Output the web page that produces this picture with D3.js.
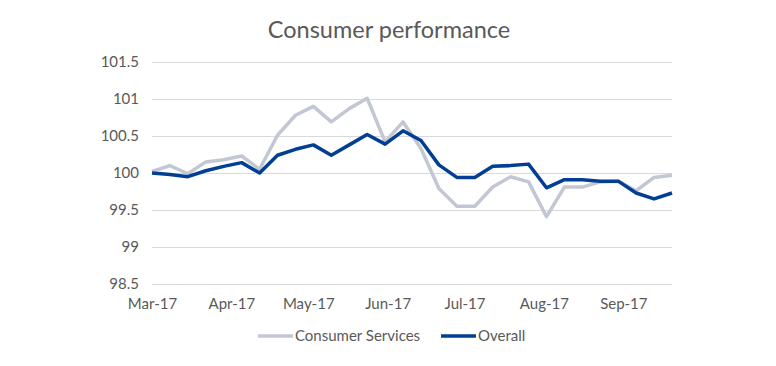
<!DOCTYPE html>
<html><head><meta charset="utf-8">
<script src="https://cdn.jsdelivr.net/npm/d3@7"></script>
<style>body{margin:0;background:#fff;} text{font-family:Lato,"Open Sans",sans-serif;}</style>
</head><body><svg id="c" width="776" height="366"></svg>
<script>
const startDate = "2017-03-01";
const weeks = 30;
const consumerServices = [100.02,100.10,99.99,100.15,100.18,100.23,100.05,100.51,100.78,100.90,100.69,100.87,101.01,100.42,100.69,100.33,99.79,99.55,99.55,99.81,99.95,99.88,99.41,99.81,99.81,99.88,99.89,99.76,99.94,99.97];
const overall = [100.00,99.98,99.95,100.03,100.09,100.14,100.00,100.24,100.32,100.38,100.24,100.38,100.52,100.39,100.57,100.44,100.11,99.94,99.94,100.09,100.10,100.12,99.80,99.91,99.91,99.89,99.89,99.73,99.65,99.73];
const yTicks = [98.5,99,99.5,100,100.5,101,101.5];
const monthTicks = ["2017-03-01","2017-04-01","2017-05-01","2017-06-01","2017-07-01","2017-08-01","2017-09-01"];
const seriesNames = ["Consumer Services","Overall"];
const colors = ["#c3c7d4","#023f92"];

const svg = d3.select("#c");
const parse = d3.timeParse("%Y-%m-%d");
const t0 = parse(startDate);
const dates = d3.range(weeks).map(i => d3.timeDay.offset(t0, i*7));
const x = d3.scaleTime().domain([t0, dates[dates.length-1]]).range([152, 672]);
const y = d3.scaleLinear().domain([98.5, 101.5]).range([284, 62]);

svg.append("text").attr("x", 389).attr("y", 38).attr("text-anchor","middle")
  .attr("font-size", 23.5).attr("fill", "#595959").text("Consumer performance");

const gy = svg.append("g").attr("transform","translate(152,0)")
  .call(d3.axisLeft(y).tickValues(yTicks).tickSize(-520).tickPadding(13).tickFormat(d3.format("")));
gy.select(".domain").remove();
gy.selectAll("line").attr("stroke","#d9d9d9");
gy.selectAll("text").attr("font-size",15).attr("fill","#595959").style("font-family","Lato");

const gx = svg.append("g").attr("transform","translate(0,284)")
  .call(d3.axisBottom(x).tickValues(monthTicks.map(parse)).tickSize(0).tickPadding(14).tickFormat(d3.timeFormat("%b-%y")));
gx.select(".domain").remove();
gx.selectAll("text").attr("font-size",15).attr("fill","#595959").style("font-family","Lato");

const line = d3.line().x((d,i) => x(dates[i])).y(d => y(d));
[consumerServices, overall].forEach((s, k) => {
  svg.append("path").datum(s).attr("d", line).attr("fill","none")
    .attr("stroke", colors[k]).attr("stroke-width", 3.5).attr("stroke-linejoin","round");
});

const legX = [258, 441];
seriesNames.forEach((n, k) => {
  const g = svg.append("g");
  g.append("line").attr("x1", legX[k]).attr("x2", legX[k]+35).attr("y1", 336).attr("y2", 336)
    .attr("stroke", colors[k]).attr("stroke-width", 3.5);
  g.append("text").attr("x", legX[k]+37).attr("y", 341).attr("font-size", 15).attr("fill","#595959").text(n);
});
</script></body></html>
